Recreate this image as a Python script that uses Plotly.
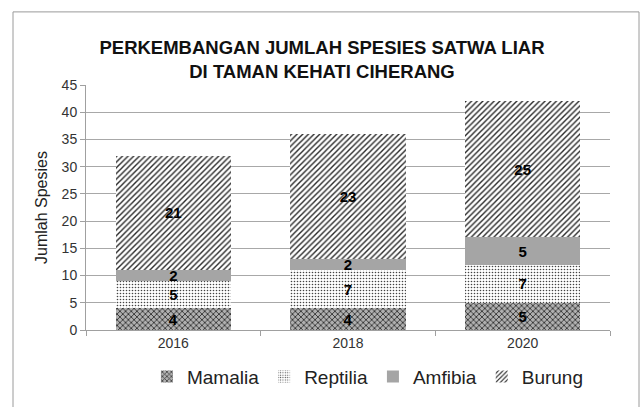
import plotly.graph_objects as go

years = ["2016", "2018", "2020"]
mamalia = [4, 4, 5]
reptilia = [5, 7, 7]
amfibia = [2, 2, 5]
burung = [21, 23, 25]

series = [
    ("Mamalia", mamalia, dict(shape="x", fgcolor="#333333", bgcolor="#b0b0b0", size=4, solidity=0.4)),
    ("Reptilia", reptilia, dict(shape=".", fgcolor="#444444", bgcolor="#ffffff", size=3, solidity=0.22)),
    ("Amfibia", amfibia, None),
    ("Burung", burung, dict(shape="/", fgcolor="#2a2a2a", bgcolor="#ffffff", size=4, solidity=0.35)),
]

FONT = "Liberation Sans, Arial, sans-serif"

fig = go.Figure()
for name, vals, pat in series:
    marker = dict(line=dict(width=0))
    if pat is None:
        marker["color"] = "#a5a5a5"
    else:
        marker["color"] = pat["bgcolor"]
        marker["pattern"] = dict(fillmode="replace", **pat)
    fig.add_trace(go.Bar(
        name=name, x=years, y=vals, marker=marker,
        text=vals, texttemplate="<b>%{text}</b>",
        textposition="inside", insidetextanchor="middle", textangle=0,
        textfont=dict(family=FONT, size=15, color="#000000"),
        hoverinfo="skip",
    ))

fig.update_layout(
    barmode="stack",
    bargap=0.34,
    width=644, height=407,
    margin=dict(l=86, r=34, t=85, b=74),
    paper_bgcolor="white", plot_bgcolor="white",
    font=dict(family=FONT, color="#333333"),
    uniformtext=dict(minsize=15, mode="show"),
    title=dict(
        text="<b>PERKEMBANGAN JUMLAH SPESIES SATWA LIAR<br>DI TAMAN KEHATI CIHERANG</b>",
        x=0.5, xanchor="center", y=1 - 53.5 / 407, yanchor="middle",
        font=dict(family=FONT, size=18.5, color="#111111"),
    ),
    legend=dict(
        orientation="h", x=0.538, xanchor="center", y=-0.19, yanchor="middle",
        font=dict(family=FONT, size=19, color="#222222"),
        traceorder="normal", itemsizing="constant",
    ),
    showlegend=True,
)
fig.update_xaxes(
    showline=True, linecolor="#a0a0a0", linewidth=1,
    ticks="outside", tickson="boundaries", ticklen=5, tickcolor="#a0a0a0",
    tickfont=dict(family=FONT, size=14, color="#333333"),
    showgrid=False,
)
fig.update_yaxes(
    range=[0, 45], dtick=5, showline=True, linecolor="#a0a0a0", linewidth=1,
    ticks="outside", ticklen=5, tickcolor="#a0a0a0",
    gridcolor="#a8a8a8", gridwidth=1, zeroline=False,
    tickfont=dict(family=FONT, size=14, color="#333333"),
    title=dict(text="Jumlah Spesies", font=dict(family=FONT, size=16, color="#222222"), standoff=10),
)

fig.add_shape(type="rect", xref="paper", yref="paper",
              x0=(13 - 86) / 524, x1=(639 - 86) / 524,
              y0=(333 - 420) / 248, y1=(333 - 11) / 248,
              line=dict(color="#9a9a9a", width=1), fillcolor="rgba(0,0,0,0)", layer="below")

fig.write_html("out.html", config={"displayModeBar": False},
               post_script="document.body.style.margin='0';document.body.style.padding='0';")
